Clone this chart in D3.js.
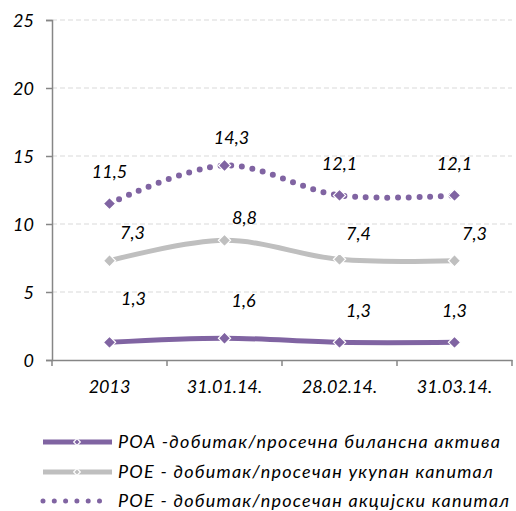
<!DOCTYPE html>
<html>
<head>
<meta charset="utf-8">
<script src="https://cdn.jsdelivr.net/npm/d3@7"></script>
<style>
  html, body { margin: 0; padding: 0; background: #fff; }
  text { font-family: Lato, "Open Sans", sans-serif; font-style: italic; fill: #000; }
</style>
</head>
<body>
<script>
// categories and series
const categories = ["2013", "31.01.14.", "28.02.14.", "31.03.14."];
const roa = [1.3, 1.6, 1.3, 1.3];
const roeTotal = [7.3, 8.8, 7.4, 7.3];
const roeShare = [11.5, 14.3, 12.1, 12.1];
const yTicks = [0, 5, 10, 15, 20, 25];
const seriesNames = [
    "РОА -добитак/просечна билансна актива",
    "РОЕ - добитак/просечан укупан капитал",
    "РОЕ - добитак/просечан акцијски капитал"
];

const W = 516, H = 511;
const svg = d3.select("body").append("svg").attr("width", W).attr("height", H);

const x = d3.scaleBand().domain(categories).range([52, 512]);
const y = d3.scaleLinear().domain([0, 25]).range([360, 20]);
const fmt = v => d3.format(".1f")(v).replace(".", ",");
const FS = 18;

// grid
svg.append("g").selectAll("line").data(yTicks.slice(1)).join("line")
    .attr("x1", 52).attr("x2", 512)
    .attr("y1", d => y(d)).attr("y2", d => y(d))
    .attr("stroke", "#d9d9d9").attr("stroke-width", 1.2)
    .attr("stroke-dasharray", "5,3");

// y axis
const yAxis = svg.append("g").attr("transform", "translate(52,0)")
    .call(d3.axisLeft(y).tickValues(yTicks).tickSize(6).tickPadding(12).tickFormat(d3.format("d")));
yAxis.select(".domain").attr("stroke", "#868686").attr("stroke-width", 1.5);
yAxis.selectAll(".tick line").attr("stroke", "#868686").attr("stroke-width", 1.5);
yAxis.selectAll("text").attr("font-size", FS).attr("font-family", null).attr("fill", "#000").attr("dy", "0.35em");

// x axis
const xAxis = svg.append("g").attr("transform", "translate(0,360)")
    .call(d3.axisBottom(x).tickSize(0).tickPadding(20));
xAxis.select(".domain").attr("stroke", "#868686").attr("stroke-width", 1.5);
xAxis.selectAll("text").attr("font-size", FS).attr("font-family", null).attr("fill", "#000");
svg.append("g").selectAll("line")
    .data(categories.map(c => x(c)).concat([x.range()[1]]))
    .join("line")
    .attr("x1", d => d).attr("x2", d => d)
    .attr("y1", 360).attr("y2", 366)
    .attr("stroke", "#868686").attr("stroke-width", 1.5);

const cx = c => x(c) + x.bandwidth() / 2;
const line = d3.line().x((d, i) => cx(categories[i])).y(d => y(d))
    .curve(d3.curveCatmullRom.alpha(0));

const diamond = d3.symbol().type(d3.symbolDiamond2).size(95);

function series(values, color, width, dotted) {
    const g = svg.append("g");
    const p = g.append("path").attr("d", line(values))
        .attr("fill", "none").attr("stroke", color)
        .attr("stroke-width", width).attr("stroke-linecap", dotted ? "round" : "butt");
    if (dotted) p.attr("stroke-dasharray", "0,10.7");
    g.selectAll("path.m").data(values).join("path").attr("class", "m")
        .attr("d", diamond)
        .attr("transform", (d, i) => `translate(${cx(categories[i])},${y(d)})`)
        .attr("fill", color).attr("stroke", "#fff").attr("stroke-width", 1.2);
}

series(roeTotal, "#bfbfbf", 5, false);
series(roa, "#8064a2", 5, false);
series(roeShare, "#8064a2", 6, true);

// data labels (offsets from each point)
const labelOffsets = [
    [[24, -44], [19, -38], [19, -32], [0, -32]],
    [[23, -28], [20, -23], [19, -26], [20, -27]],
    [[0, -32], [7, -28], [0, -32], [0, -32]]
];
[roa, roeTotal, roeShare].forEach((vals, s) => {
    svg.append("g").selectAll("text").data(vals).join("text")
        .attr("x", (d, i) => cx(categories[i]) + labelOffsets[s][i][0])
        .attr("y", (d, i) => y(d) + labelOffsets[s][i][1])
        .attr("dy", "0.35em")
        .attr("text-anchor", "middle").attr("font-size", FS)
        .text(fmt);
});

// legend
const legend = svg.append("g");
const rows = [442, 472, 501];
const lstyles = [["#8064a2", false], ["#bfbfbf", false], ["#8064a2", true]];
rows.forEach((ry, i) => {
    const [color, dotted] = lstyles[i];
    const l = legend.append("line").attr("x1", 43).attr("x2", dotted ? 100 : 112)
        .attr("y1", ry).attr("y2", ry).attr("stroke", color)
        .attr("stroke-width", 5);
    if (dotted) {
        l.attr("stroke-dasharray", "0,11.3").attr("stroke-linecap", "round");
    } else {
        legend.append("path").attr("d", d3.symbol().type(d3.symbolDiamond2).size(28))
            .attr("transform", `translate(77,${ry})`)
            .attr("fill", color).attr("stroke", "#fff").attr("stroke-width", 1.2);
    }
    legend.append("text").attr("x", 118).attr("y", ry).attr("dy", "0.35em")
        .attr("font-size", FS).attr("letter-spacing", "1.25px").text(seriesNames[i]);
});
</script>
</body>
</html>
